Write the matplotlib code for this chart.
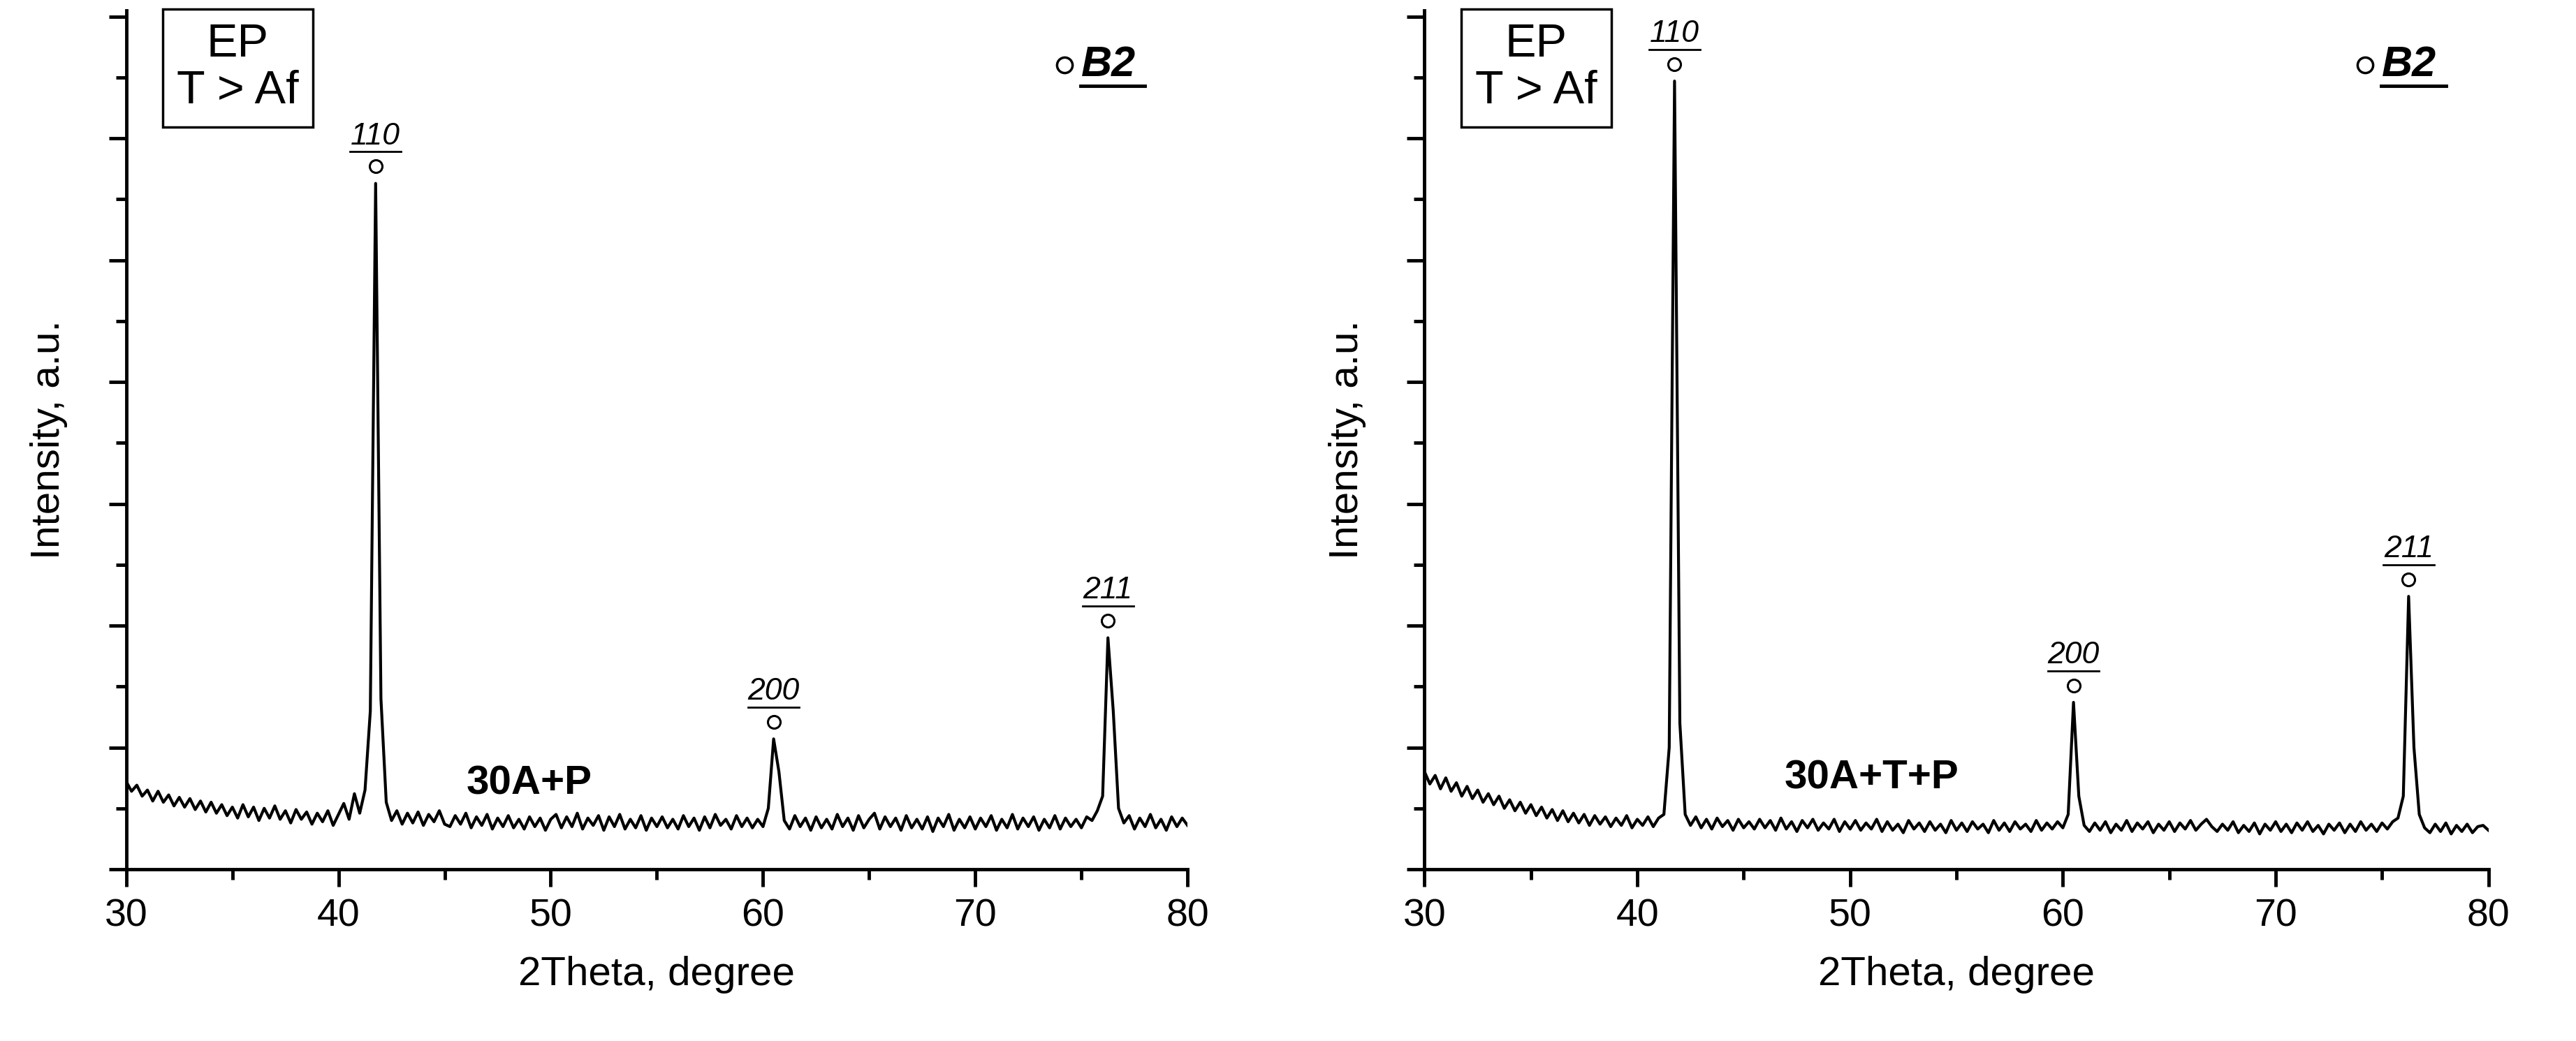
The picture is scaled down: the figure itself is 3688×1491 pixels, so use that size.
import numpy as np
import matplotlib
matplotlib.use("Agg")
import matplotlib.pyplot as plt

plt.rcParams['font.family'] = ['Liberation Sans', 'DejaVu Sans']

two_theta = np.arange(30, 80.001, 0.25)

left_intensity = [
0.72,0.64,0.69,0.60,0.65,0.56,0.64,0.55,0.61,0.52,0.59,0.51,0.58,0.49,0.56,0.47,0.55,0.46,0.53,0.44,0.51,
0.42,0.53,0.43,0.51,0.40,0.50,0.42,0.52,0.41,0.48,0.38,0.49,0.41,0.47,0.37,0.46,0.39,0.48,0.36,0.45,
0.54,0.41,0.62,0.46,0.65,1.30,5.63,1.40,0.55,0.40,0.48,0.37,0.46,0.38,0.47,0.36,0.45,0.39,0.48,0.37,
0.35,0.44,0.37,0.46,0.34,0.43,0.36,0.45,0.33,0.42,0.35,0.44,0.34,0.41,0.33,0.43,0.35,0.42,0.32,0.41,
0.45,0.34,0.43,0.35,0.46,0.33,0.42,0.36,0.44,0.32,0.43,0.35,0.45,0.33,0.41,0.34,0.44,0.32,0.42,0.35,
0.43,0.34,0.41,0.33,0.44,0.35,0.42,0.32,0.43,0.34,0.45,0.36,0.41,0.33,0.44,0.35,0.42,0.34,0.41,0.35,
0.50,1.07,0.80,0.40,0.33,0.44,0.35,0.42,0.32,0.43,0.34,0.41,0.33,0.45,0.35,0.42,0.32,0.44,0.34,0.41,
0.46,0.33,0.43,0.35,0.42,0.32,0.44,0.34,0.41,0.33,0.43,0.31,0.42,0.35,0.45,0.32,0.41,0.34,0.43,0.33,
0.42,0.35,0.44,0.32,0.41,0.34,0.45,0.33,0.42,0.35,0.43,0.32,0.41,0.34,0.44,0.33,0.42,0.35,0.41,0.34,
0.43,0.40,0.48,0.60,1.90,1.30,0.50,0.38,0.44,0.33,0.42,0.35,0.45,0.34,0.41,0.32,0.43,0.35,0.42,0.36]

right_intensity = [
0.80,0.70,0.77,0.66,0.75,0.64,0.71,0.60,0.68,0.58,0.65,0.55,0.62,0.53,0.60,0.50,0.57,0.48,0.55,0.46,0.53,
0.44,0.51,0.42,0.49,0.40,0.48,0.39,0.46,0.38,0.45,0.36,0.44,0.37,0.43,0.35,0.42,0.36,0.44,0.34,0.41,
0.36,0.43,0.35,0.42,0.45,1.00,6.47,1.20,0.45,0.36,0.43,0.34,0.41,0.33,0.42,0.35,0.40,0.32,0.41,0.34,
0.39,0.33,0.41,0.34,0.40,0.32,0.42,0.33,0.39,0.31,0.40,0.34,0.41,0.32,0.38,0.33,0.41,0.31,0.39,0.33,
0.40,0.32,0.38,0.33,0.41,0.31,0.39,0.32,0.37,0.30,0.40,0.33,0.38,0.31,0.39,0.32,0.37,0.30,0.40,0.32,
0.38,0.31,0.39,0.33,0.37,0.30,0.40,0.32,0.38,0.31,0.39,0.33,0.37,0.31,0.40,0.32,0.38,0.33,0.39,0.34,
0.45,1.37,0.60,0.36,0.31,0.38,0.32,0.39,0.30,0.37,0.32,0.40,0.31,0.38,0.33,0.39,0.30,0.37,0.32,0.39,
0.31,0.38,0.33,0.40,0.32,0.37,0.41,0.35,0.31,0.37,0.32,0.39,0.30,0.36,0.31,0.38,0.29,0.37,0.32,0.39,
0.31,0.37,0.30,0.38,0.32,0.39,0.31,0.36,0.29,0.37,0.32,0.38,0.30,0.37,0.31,0.39,0.32,0.37,0.31,0.38,
0.33,0.39,0.42,0.60,2.24,1.00,0.45,0.34,0.30,0.37,0.31,0.38,0.29,0.36,0.31,0.37,0.30,0.35,0.36,0.32]

hkl_labels = ["110", "200", "211"]
left_peaks_x = [41.75, 60.5, 76.25]
left_peaks_y = [5.63, 1.07, 1.90]
right_peaks_x = [41.75, 60.5, 76.25]
right_peaks_y = [6.47, 1.37, 2.24]
sample_labels = ["30A+P", "30A+T+P"]
sample_label_x = [49.0, 51.0]
sample_label_y = [0.70, 0.75]

fig = plt.figure(figsize=(36.88, 14.91), dpi=100)
axes = [fig.add_axes([0.049, 0.165, 0.412, 0.825]),
        fig.add_axes([0.553, 0.165, 0.413, 0.825])]

datasets = [(left_intensity, left_peaks_x, left_peaks_y),
            (right_intensity, right_peaks_x, right_peaks_y)]

for k, (ax, (yv, px, py)) in enumerate(zip(axes, datasets)):
    ax.plot(two_theta, yv, color='black', lw=3)
    ax.set_xlim(30, 80)
    ax.set_ylim(0, 7.05)
    for s in ['top', 'right']:
        ax.spines[s].set_visible(False)
    for s in ['left', 'bottom']:
        ax.spines[s].set_linewidth(3.5)
    ax.set_xticks(np.arange(30, 81, 10))
    ax.set_xticks(np.arange(35, 80, 10), minor=True)
    ax.set_yticks(np.arange(0, 7.01, 1))
    ax.set_yticks(np.arange(0.5, 7.01, 1), minor=True)
    ax.set_yticklabels([])
    ax.tick_params(which='major', length=18, width=3.5, labelsize=40, direction='out', pad=12)
    ax.tick_params(which='minor', length=11, width=3.5, direction='out')
    ax.set_xlabel("2Theta, degree", fontsize=42, labelpad=22)
    ax.set_ylabel("Intensity, a.u.", fontsize=42, labelpad=30)
    for lab, x0, y0 in zip(hkl_labels, px, py):
        ax.plot([x0], [y0 + 0.14], marker='o', ms=13, mfc='white', mec='black', mew=2.2)
        ax.text(x0, y0 + 0.27, lab, fontsize=32, style='italic', ha='center', va='bottom')
        ax.plot([x0 - 1.2, x0 + 1.2], [y0 + 0.26, y0 + 0.26], color='black', lw=2)
    ax.text(sample_label_x[k], sample_label_y[k], sample_labels[k], fontsize=42,
            fontweight='bold', ha='center', va='center')
    ax.text(0.105, 0.985, "EP\nT > Af", transform=ax.transAxes, fontsize=48, ha='center',
            va='top', linespacing=1.1, multialignment='center',
            bbox=dict(boxstyle='square,pad=0.3', fc='white', ec='black', lw=2.5))
    ax.plot([74.2], [6.6], marker='o', ms=16, mfc='white', mec='black', mew=2.5)
    ax.text(75.0, 6.6, "B2", fontsize=44, fontweight='bold', style='italic', va='center')
    ax.plot([74.95, 78.0], [6.43, 6.43], color='black', lw=3.5)

fig.savefig("out.png", dpi=100)
